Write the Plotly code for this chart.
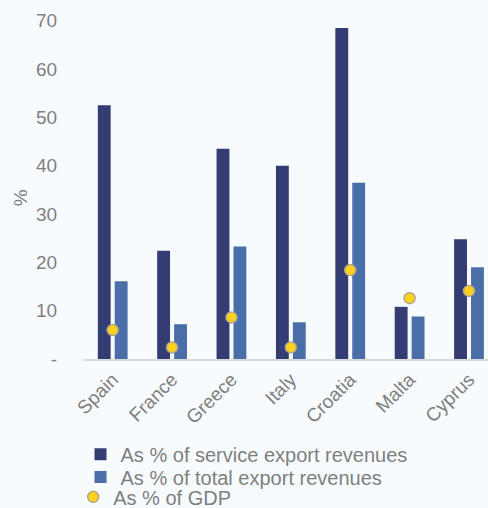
import plotly.graph_objects as go

countries = ["Spain", "France", "Greece", "Italy", "Croatia", "Malta", "Cyprus"]
service_exports = [52.5, 22.4, 43.5, 40.0, 68.5, 10.8, 24.8]
total_exports = [16.1, 7.2, 23.3, 7.6, 36.5, 8.8, 19.0]
gdp_share = [6.0, 2.4, 8.6, 2.4, 18.4, 12.6, 14.1]

y_ticks = [0, 10, 20, 30, 40, 50, 60, 70]
y_ticktext = ["-", "10", "20", "30", "40", "50", "60", "70"]

grey = "#7F7F7F"
font = "Arial, Liberation Sans, sans-serif"

fig = go.Figure()
fig.add_trace(go.Bar(x=countries, y=service_exports,
                     name="As % of service export revenues", legend="legend",
                     marker=dict(color="#333C73", line=dict(width=0))))
fig.add_trace(go.Bar(x=countries, y=total_exports,
                     name="As % of total export revenues", legend="legend2",
                     marker=dict(color="#4A6FA8", line=dict(width=0))))
fig.add_trace(go.Scatter(x=countries, y=gdp_share, mode="markers",
                         name="As % of GDP", legend="legend3",
                         marker=dict(color="#FDD21F", size=11,
                                     line=dict(color="#B3A48C", width=1.5))))

leg = dict(xref="container", yref="container", xanchor="left", yanchor="middle",
           font=dict(size=20, color=grey), bgcolor="rgba(0,0,0,0)", itemwidth=30)

fig.update_layout(
    width=488, height=508,
    margin=dict(l=83, r=0, t=16, b=149, autoexpand=False),
    paper_bgcolor="#F7FBFE", plot_bgcolor="#F7FBFE",
    font=dict(family=font, color=grey, size=17),
    barmode="group", bargap=0.43, bargroupgap=0.24,
    showlegend=True,
    legend=dict(leg, x=0.165, y=0.106),
    legend2=dict(leg, x=0.165, y=0.061),
    legend3=dict(leg, x=0.15, y=0.022),
)
# y axis title drawn as a rotated annotation
fig.add_annotation(text="%", xref="paper", yref="paper", x=-0.185, y=0.47,
                   showarrow=False, textangle=-90,
                   font=dict(size=19, color=grey))
fig.update_xaxes(range=[-0.5, 6.32], tickangle=-45, showgrid=False,
                 showline=True, linecolor="#D9D9D9", linewidth=2,
                 ticks="", tickfont=dict(size=19, color=grey))
fig.update_yaxes(range=[0, 71], tickvals=y_ticks, ticktext=y_ticktext,
                 showgrid=False, zeroline=False, showline=False,
                 ticks="outside", ticklen=21, tickcolor="rgba(0,0,0,0)",
                 tickfont=dict(size=19, color=grey))

fig.write_html("out.html", config={"displayModeBar": False},
               post_script="document.body.style.margin='0';")
